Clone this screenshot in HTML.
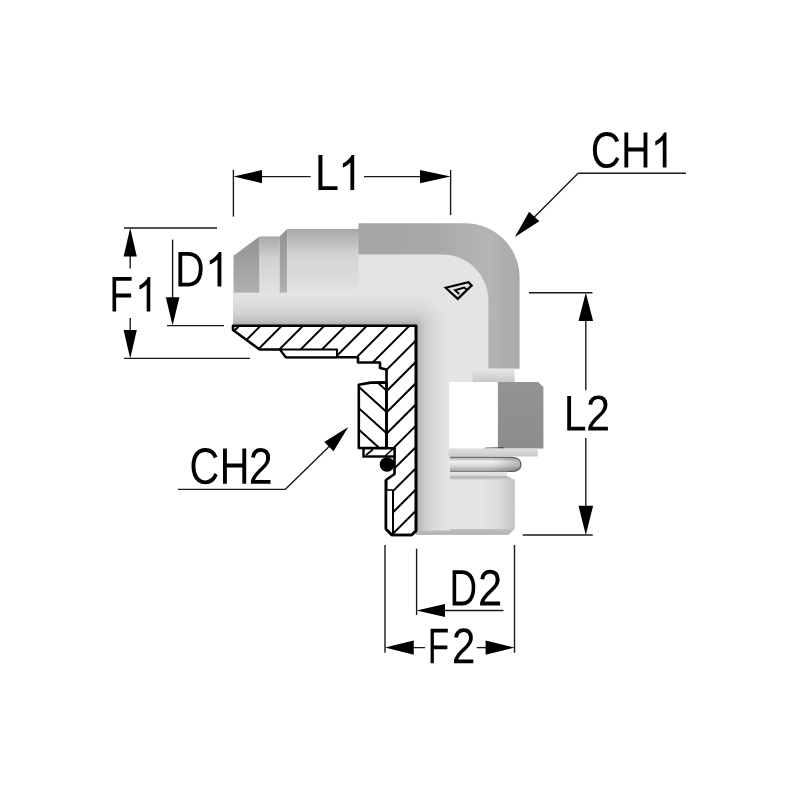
<!DOCTYPE html>
<html><head><meta charset="utf-8"><title>Fitting</title>
<style>html,body{margin:0;padding:0;background:#fff;width:800px;height:800px;overflow:hidden;font-family:"Liberation Sans",sans-serif}svg{display:block}</style>
</head><body>
<svg width="800" height="800" viewBox="0 0 800 800">
<defs>
<clipPath id="cElbow"><path d="M358.5,254.5 L442,254.5 A46,46 0 0 1 488.3,300 L488.3,535 L416,535 L416,325.5 L358.5,325.5 Z"/></clipPath>
<linearGradient id="gTube" gradientUnits="userSpaceOnUse" x1="0" y1="292.8" x2="0" y2="325.5"><stop offset="0" stop-color="#e6e6e6"/><stop offset="0.5" stop-color="#e2e2e2"/><stop offset="0.75" stop-color="#d8d8d8"/><stop offset="1" stop-color="#a8a8a8"/></linearGradient>
<radialGradient id="gArmR" gradientUnits="userSpaceOnUse" cx="416" cy="325.5" r="70.5"><stop offset="0" stop-color="#a8a8a8"/><stop offset="0.064" stop-color="#c0c0c0"/><stop offset="0.149" stop-color="#d0d0d0"/><stop offset="0.291" stop-color="#dcdcdc"/><stop offset="0.461" stop-color="#e4e4e4"/><stop offset="1" stop-color="#e4e4e4"/></radialGradient>
<linearGradient id="gArmH" gradientUnits="userSpaceOnUse" x1="0" y1="255" x2="0" y2="325.5"><stop offset="0" stop-color="#e4e4e4"/><stop offset="0.539" stop-color="#e4e4e4"/><stop offset="0.709" stop-color="#dcdcdc"/><stop offset="0.851" stop-color="#d0d0d0"/><stop offset="0.936" stop-color="#c0c0c0"/><stop offset="1" stop-color="#a8a8a8"/></linearGradient>
<linearGradient id="gArmV" gradientUnits="userSpaceOnUse" x1="486.5" y1="0" x2="416" y2="0"><stop offset="0" stop-color="#e4e4e4"/><stop offset="0.539" stop-color="#e4e4e4"/><stop offset="0.709" stop-color="#dcdcdc"/><stop offset="0.851" stop-color="#d0d0d0"/><stop offset="0.936" stop-color="#c0c0c0"/><stop offset="1" stop-color="#a8a8a8"/></linearGradient>
<linearGradient id="gDark" x1="0" y1="0" x2="0" y2="1"><stop offset="0" stop-color="#939393"/><stop offset="1" stop-color="#b0b0b0"/></linearGradient>
<linearGradient id="gLight" x1="0" y1="0" x2="0" y2="1"><stop offset="0" stop-color="#a8a8a8"/><stop offset="0.4" stop-color="#d2d2d2"/><stop offset="1" stop-color="#e2e2e2"/></linearGradient>
<linearGradient id="gTubeBot" x1="0" y1="0" x2="0" y2="1"><stop offset="0" stop-color="#e4e4e4"/><stop offset="0.55" stop-color="#dcdcdc"/><stop offset="1" stop-color="#a4a4a4"/></linearGradient>
<linearGradient id="gHex" gradientUnits="userSpaceOnUse" x1="358" y1="0" x2="520" y2="0"><stop offset="0" stop-color="#a5a5a5"/><stop offset="0.45" stop-color="#a8a8a8"/><stop offset="0.8" stop-color="#b5b5b5"/><stop offset="1" stop-color="#a9a9a9"/></linearGradient>
<linearGradient id="gElbow" x1="0" y1="0" x2="1" y2="0"><stop offset="0" stop-color="#e2e2e2"/><stop offset="1" stop-color="#dedede"/></linearGradient>
<linearGradient id="gVert" x1="0" y1="0" x2="1" y2="0"><stop offset="0" stop-color="#b4b4b4"/><stop offset="0.5" stop-color="#d8d8d8"/><stop offset="1" stop-color="#e2e2e2" stop-opacity="0"/></linearGradient>
<linearGradient id="gRing" x1="0" y1="0" x2="0" y2="1"><stop offset="0" stop-color="#e6e6e6"/><stop offset="1" stop-color="#c8c8c8"/></linearGradient>
<linearGradient id="gNut" x1="0" y1="0" x2="0" y2="1"><stop offset="0" stop-color="#939393"/><stop offset="1" stop-color="#8c8c8c"/></linearGradient>
<linearGradient id="gWasher" x1="0" y1="0" x2="0" y2="1"><stop offset="0" stop-color="#dedede"/><stop offset="1" stop-color="#cacaca"/></linearGradient>
<linearGradient id="gOringH" gradientUnits="userSpaceOnUse" x1="450" y1="0" x2="521" y2="0"><stop offset="0" stop-color="#000" stop-opacity="0"/><stop offset="0.6" stop-color="#000" stop-opacity="0"/><stop offset="1" stop-color="#000" stop-opacity="0.22"/></linearGradient>
<linearGradient id="gOring" x1="0" y1="0" x2="0" y2="1"><stop offset="0" stop-color="#a8a8a8"/><stop offset="0.3" stop-color="#f0f0f0"/><stop offset="0.6" stop-color="#dadada"/><stop offset="1" stop-color="#9a9a9a"/></linearGradient>
<linearGradient id="gGroove" gradientUnits="userSpaceOnUse" x1="0" y1="471.8" x2="0" y2="480"><stop offset="0" stop-color="#e6e6e6"/><stop offset="0.45" stop-color="#dcdcdc"/><stop offset="0.55" stop-color="#b8b8b8"/><stop offset="0.85" stop-color="#c0c0c0"/><stop offset="1" stop-color="#d8d8d8"/></linearGradient>
<linearGradient id="gCyl" gradientUnits="userSpaceOnUse" x1="449" y1="0" x2="515" y2="0"><stop offset="0" stop-color="#e4e4e4"/><stop offset="0.5" stop-color="#e4e4e4"/><stop offset="0.75" stop-color="#dcdcdc"/><stop offset="1" stop-color="#c4c4c4"/></linearGradient>
<linearGradient id="gBotBand" x1="0" y1="0" x2="0" y2="1"><stop offset="0" stop-color="#c0c0c0"/><stop offset="1" stop-color="#b0b0b0"/></linearGradient>
</defs>
<rect width="800" height="800" fill="#fff"/>
<rect x="233" y="292.8" width="126" height="33" fill="url(#gArmH)"/><polygon points="233.5,255.7 259.6,236.4 259.6,292.8 233.5,292.8" fill="url(#gDark)"/><rect x="259.6" y="236.4" width="20" height="56.4" fill="url(#gLight)"/><polygon points="279.6,236.4 287.1,228.9 287.1,292.8 279.6,292.8" fill="url(#gDark)"/><rect x="287.1" y="228.9" width="72" height="63.9" fill="url(#gLight)"/><path d="M358.5,254.5 L442,254.5 A46,46 0 0 1 488.3,300 L488.3,535 L416,535 L416,325.5 L358.5,325.5 Z" fill="url(#gArmH)"/><rect x="416" y="323.5" width="104" height="212" fill="url(#gArmV)" clip-path="url(#cElbow)"/><rect x="415" y="200" width="105" height="125.5" fill="url(#gArmR)" clip-path="url(#cElbow)"/><path d="M358.5,223.2 L465,223.2 A54.5,54.5 0 0 1 519.6,277.5 L519.6,368.7 L488.3,368.7 L488.3,300 A46,46 0 0 0 442,254.5 L358.5,254.5 Z" fill="url(#gHex)"/><rect x="472.5" y="368.7" width="42" height="13.3" fill="url(#gRing)"/><rect x="448.9" y="382" width="49" height="66.6" fill="#ffffff"/><path d="M497.9,382 L538,382 L543.4,387 L543.4,448.6 L497.9,448.6 Z" fill="url(#gNut)"/><path d="M483,448.6 L505,448.6 L503,447 L486,447.4 Z" fill="#333" opacity="0.7"/><rect x="448.5" y="448.6" width="89.3" height="7.9" fill="url(#gWasher)"/><path d="M450,457.3 L511,457.3 C517.5,457.3 521,460.3 521,464.4 C521,468.6 517.5,471.5 511,471.5 L450,471.5" fill="url(#gOring)" stroke="#4a4a4a" stroke-width="1.1" stroke-opacity="0.85"/><path d="M450,457.3 L511,457.3 C517.5,457.3 521,460.3 521,464.4 C521,468.6 517.5,471.5 511,471.5 L450,471.5 Z" fill="url(#gOringH)"/><path d="M450,471.8 L507,471.8 L507,476 L514.8,480 L450,480 Z" fill="url(#gGroove)"/><path d="M449,479.5 L514.8,479.5 L514.8,528.5 L508.5,534.7 L449,534.7 Z" fill="url(#gCyl)"/><path d="M416,530.5 L450,530.5 L450,529 L514.3,529 L508.5,534.7 L416,534.7 Z" fill="url(#gBotBand)"/>

<clipPath id="cBody"><path d="M233,325.7 L416,325.7 L416,531 L411.5,535 L392,535 L386,529 L386,480 L394.5,474 L394.5,448.6 L386.5,448.6 L386.5,369.5 L380,368 L380,362.5 L358,362.5 L358,357.2 L286,357.2 L280,349.5 L259.7,349.5 L233,330 Z"/></clipPath>
<clipPath id="cNut"><path d="M358.8,384.8 L370.6,382.6 L386.5,382.4 L386.5,448 L358.8,448 Z"/></clipPath>
<path d="M233,325.7 L416,325.7 L416,531 L411.5,535 L392,535 L386,529 L386,480 L394.5,474 L394.5,448.6 L386.5,448.6 L386.5,369.5 L380,368 L380,362.5 L358,362.5 L358,357.2 L286,357.2 L280,349.5 L259.7,349.5 L233,330 Z" fill="#fff"/>
<path d="M243.76,300 L-56.24,600 M265.03,300 L-34.97,600 M286.30,300 L-13.70,600 M307.57,300 L7.57,600 M328.84,300 L28.84,600 M350.11,300 L50.11,600 M371.38,300 L71.38,600 M392.65,300 L92.65,600 M413.92,300 L113.92,600 M435.19,300 L135.19,600 M456.46,300 L156.46,600 M477.73,300 L177.73,600 M499.00,300 L199.00,600 M520.27,300 L220.27,600 M541.54,300 L241.54,600 M562.81,300 L262.81,600 M584.08,300 L284.08,600 M605.35,300 L305.35,600 M626.62,300 L326.62,600 M647.89,300 L347.89,600 M669.16,300 L369.16,600 M690.43,300 L390.43,600 M711.70,300 L411.70,600 M732.97,300 L432.97,600 M754.24,300 L454.24,600 M775.51,300 L475.51,600 M796.78,300 L496.78,600 M818.05,300 L518.05,600 M839.32,300 L539.32,600 M860.59,300 L560.59,600 M881.86,300 L581.86,600 M903.13,300 L603.13,600 M924.40,300 L624.40,600 M945.67,300 L645.67,600 M966.94,300 L666.94,600 M988.21,300 L688.21,600 M1009.48,300 L709.48,600 M1030.75,300 L730.75,600 M1052.02,300 L752.02,600 M1073.29,300 L773.29,600 M1094.56,300 L794.56,600 M1115.83,300 L815.83,600" clip-path="url(#cBody)" stroke="#000" stroke-width="2" fill="none"/>
<path d="M358.8,384.8 L370.6,382.6 L386.5,382.4 L386.5,448 L358.8,448 Z" fill="#fff"/>
<path d="M340.00,306.12 L400.00,360.12 M340.00,327.42 L400.00,381.42 M340.00,348.72 L400.00,402.72 M340.00,370.02 L400.00,424.02 M340.00,391.32 L400.00,445.32 M340.00,412.62 L400.00,466.62 M340.00,433.92 L400.00,487.92 M340.00,455.22 L400.00,509.22 M340.00,476.52 L400.00,530.52" clip-path="url(#cNut)" stroke="#000" stroke-width="2" fill="none"/>
<path d="M233,325.7 L416,325.7 L416,531 L411.5,535 L392,535 L386,529 L386,480 L394.5,474 L394.5,448.6 L386.5,448.6 L386.5,369.5 L380,368 L380,362.5 L358,362.5 L358,357.2 L286,357.2 L280,349.5 L259.7,349.5 L233,330 Z" fill="none" stroke="#000" stroke-width="2.6" stroke-linejoin="round"/>
<path d="M358.8,384.8 L370.6,382.6 L386.5,382.4 L386.5,448 L358.8,448 Z" fill="none" stroke="#000" stroke-width="2.6" stroke-linejoin="round"/>
<path d="M280,349.5 L337,349.5 L337,357.2 L286,357.2 Z" fill="#fff" stroke="#000" stroke-width="2" stroke-linejoin="round"/>
<rect x="363.5" y="448.3" width="31" height="8.2" fill="#fff" stroke="#000" stroke-width="2.4"/>
<line x1="366" y1="455" x2="373" y2="449.5" stroke="#000" stroke-width="1.6"/>
<line x1="385" y1="456" x2="393" y2="449" stroke="#000" stroke-width="1.6"/>
<circle cx="387" cy="464.5" r="7.3" fill="#000"/>
<path d="M386,490 L393,490 L393,535 L392,535 L386,529 Z" fill="#fff"/>
<line x1="393" y1="490" x2="393" y2="535" stroke="#000" stroke-width="2"/>
<line x1="386" y1="490" x2="393" y2="490" stroke="#000" stroke-width="1.6"/>
<path d="M416,325.7 L416,531 L411.5,535 L392,535 L386,529 L386,480" fill="none" stroke="#000" stroke-width="2.6" stroke-linejoin="round"/>

<g fill="none" stroke="#000" stroke-width="2.2" stroke-linejoin="miter">
<path d="M445.6,287.7 L468.4,282.3 L471.7,285.4 L457.8,298.9 Z"/>
<path d="M467,289.8 L464.2,287.6 L455,290.3 L459.2,294" stroke-width="1.9"/>
</g>
<g stroke="#1a1a1a" stroke-width="1.4" fill="none"><line x1="233.4" y1="169.7" x2="233.4" y2="216.6"/><line x1="450.6" y1="170" x2="450.6" y2="215"/><line x1="240" y1="176.6" x2="310.7" y2="176.6"/><line x1="364" y1="176.6" x2="444" y2="176.6"/><line x1="124" y1="228" x2="217" y2="228"/><line x1="124" y1="358.4" x2="250" y2="358.4"/><line x1="130.2" y1="235" x2="130.2" y2="268.4"/><line x1="130.2" y1="318" x2="130.2" y2="352"/><line x1="172.6" y1="239.6" x2="172.6" y2="318"/><line x1="167" y1="325.6" x2="224" y2="325.6"/><line x1="578.1" y1="173.3" x2="686" y2="173.3"/><line x1="578.1" y1="173.3" x2="520" y2="231.5"/><line x1="529" y1="292.8" x2="592.5" y2="292.8"/><line x1="522.75" y1="535" x2="592.75" y2="535"/><line x1="585.8" y1="300" x2="585.8" y2="390.2"/><line x1="585.8" y1="438" x2="585.8" y2="528"/><line x1="178" y1="489.4" x2="285.1" y2="489.4"/><line x1="285.1" y1="489.4" x2="343" y2="433"/><line x1="416.6" y1="548.75" x2="416.6" y2="615"/><line x1="422" y1="610.5" x2="503.5" y2="610.5"/><line x1="385" y1="545" x2="385" y2="652.8"/><line x1="514.5" y1="545" x2="514.5" y2="652.8"/><line x1="390" y1="647.6" x2="425" y2="647.6"/><line x1="476.7" y1="647.6" x2="508" y2="647.6"/></g>
<g fill="#000"><polygon points="233.40,176.60 262.00,183.20 262.00,170.00"/><polygon points="450.60,176.60 420.00,170.00 420.00,183.20"/><polygon points="130.20,228.00 123.60,256.50 136.80,256.50"/><polygon points="130.20,358.40 136.80,330.00 123.60,330.00"/><polygon points="172.60,325.60 179.40,297.30 165.80,297.30"/><polygon points="514.90,237.00 539.34,221.30 529.16,211.70"/><polygon points="585.80,292.80 578.50,321.00 593.10,321.00"/><polygon points="585.80,535.00 593.10,505.80 578.50,505.80"/><polygon points="348.30,426.90 324.27,442.04 333.53,451.16"/><polygon points="416.60,610.50 445.00,617.00 445.00,604.00"/><polygon points="385.00,647.60 413.75,654.80 413.75,640.40"/><polygon points="514.50,647.60 485.60,640.40 485.60,654.80"/></g>
<g fill="#000"><path transform="matrix(0.02115 0 0 -0.02498 314.847 190.100)" d="M168 0V1409H359V156H1071V0Z"/><path transform="matrix(0.02111 0 0 -0.02498 338.092 190.100)" d="M763 0L583 0L583 1102C540 1063 483 1022 413 983C343 944 280 914 223 893L223 1061C323 1106 410 1161 485 1225C560 1290 613 1353 644 1409L763 1409Z"/><path transform="matrix(0.02035 0 0 -0.02484 590.783 167.600)" d="M792 1274Q558 1274 428.0 1123.5Q298 973 298 711Q298 452 433.5 294.5Q569 137 800 137Q1096 137 1245 430L1401 352Q1314 170 1156.5 75.0Q999 -20 791 -20Q578 -20 422.5 68.5Q267 157 185.5 321.5Q104 486 104 711Q104 1048 286.0 1239.0Q468 1430 790 1430Q1015 1430 1166.0 1342.0Q1317 1254 1388 1081L1207 1021Q1158 1144 1049.5 1209.0Q941 1274 792 1274Z"/><path transform="matrix(0.02010 0 0 -0.02484 621.022 167.600)" d="M1121 0V653H359V0H168V1409H359V813H1121V1409H1312V0Z"/><path transform="matrix(0.02074 0 0 -0.02484 650.675 167.600)" d="M763 0L583 0L583 1102C540 1063 483 1022 413 983C343 944 280 914 223 893L223 1061C323 1106 410 1161 485 1225C560 1290 613 1353 644 1409L763 1409Z"/><path transform="matrix(0.02003 0 0 -0.02441 175.034 286.400)" d="M1381 719Q1381 501 1296.0 337.5Q1211 174 1055.0 87.0Q899 0 695 0H168V1409H634Q992 1409 1186.5 1229.5Q1381 1050 1381 719ZM1189 719Q1189 981 1045.5 1118.5Q902 1256 630 1256H359V153H673Q828 153 945.5 221.0Q1063 289 1126.0 417.0Q1189 545 1189 719Z"/><path transform="matrix(0.02167 0 0 -0.02441 204.868 286.400)" d="M763 0L583 0L583 1102C540 1063 483 1022 413 983C343 944 280 914 223 893L223 1061C323 1106 410 1161 485 1225C560 1290 613 1353 644 1409L763 1409Z"/><path transform="matrix(0.01908 0 0 -0.02441 109.294 311.400)" d="M359 1253V729H1145V571H359V0H168V1409H1169V1253Z"/><path transform="matrix(0.02019 0 0 -0.02441 134.899 311.400)" d="M763 0L583 0L583 1102C540 1063 483 1022 413 983C343 944 280 914 223 893L223 1061C323 1106 410 1161 485 1225C560 1290 613 1353 644 1409L763 1409Z"/><path transform="matrix(0.01988 0 0 -0.02456 563.910 430.500)" d="M168 0V1409H359V156H1071V0Z"/><path transform="matrix(0.02106 0 0 -0.02456 586.081 430.500)" d="M103 0V127Q154 244 227.5 333.5Q301 423 382.0 495.5Q463 568 542.5 630.0Q622 692 686.0 754.0Q750 816 789.5 884.0Q829 952 829 1038Q829 1154 761.0 1218.0Q693 1282 572 1282Q457 1282 382.5 1219.5Q308 1157 295 1044L111 1061Q131 1230 254.5 1330.0Q378 1430 572 1430Q785 1430 899.5 1329.5Q1014 1229 1014 1044Q1014 962 976.5 881.0Q939 800 865.0 719.0Q791 638 582 468Q467 374 399.0 298.5Q331 223 301 153H1036V0Z"/><path transform="matrix(0.02020 0 0 -0.02498 189.399 483.800)" d="M792 1274Q558 1274 428.0 1123.5Q298 973 298 711Q298 452 433.5 294.5Q569 137 800 137Q1096 137 1245 430L1401 352Q1314 170 1156.5 75.0Q999 -20 791 -20Q578 -20 422.5 68.5Q267 157 185.5 321.5Q104 486 104 711Q104 1048 286.0 1239.0Q468 1430 790 1430Q1015 1430 1166.0 1342.0Q1317 1254 1388 1081L1207 1021Q1158 1144 1049.5 1209.0Q941 1274 792 1274Z"/><path transform="matrix(0.02028 0 0 -0.02498 219.593 483.800)" d="M1121 0V653H359V0H168V1409H359V813H1121V1409H1312V0Z"/><path transform="matrix(0.02101 0 0 -0.02498 248.736 483.800)" d="M103 0V127Q154 244 227.5 333.5Q301 423 382.0 495.5Q463 568 542.5 630.0Q622 692 686.0 754.0Q750 816 789.5 884.0Q829 952 829 1038Q829 1154 761.0 1218.0Q693 1282 572 1282Q457 1282 382.5 1219.5Q308 1157 295 1044L111 1061Q131 1230 254.5 1330.0Q378 1430 572 1430Q785 1430 899.5 1329.5Q1014 1229 1014 1044Q1014 962 976.5 881.0Q939 800 865.0 719.0Q791 638 582 468Q467 374 399.0 298.5Q331 223 301 153H1036V0Z"/><path transform="matrix(0.01871 0 0 -0.02491 449.456 605.400)" d="M1381 719Q1381 501 1296.0 337.5Q1211 174 1055.0 87.0Q899 0 695 0H168V1409H634Q992 1409 1186.5 1229.5Q1381 1050 1381 719ZM1189 719Q1189 981 1045.5 1118.5Q902 1256 630 1256H359V153H673Q828 153 945.5 221.0Q1063 289 1126.0 417.0Q1189 545 1189 719Z"/><path transform="matrix(0.02144 0 0 -0.02491 477.892 605.400)" d="M103 0V127Q154 244 227.5 333.5Q301 423 382.0 495.5Q463 568 542.5 630.0Q622 692 686.0 754.0Q750 816 789.5 884.0Q829 952 829 1038Q829 1154 761.0 1218.0Q693 1282 572 1282Q457 1282 382.5 1219.5Q308 1157 295 1044L111 1061Q131 1230 254.5 1330.0Q378 1430 572 1430Q785 1430 899.5 1329.5Q1014 1229 1014 1044Q1014 962 976.5 881.0Q939 800 865.0 719.0Q791 638 582 468Q467 374 399.0 298.5Q331 223 301 153H1036V0Z"/><path transform="matrix(0.01718 0 0 -0.02441 427.713 663.200)" d="M359 1253V729H1145V571H359V0H168V1409H1169V1253Z"/><path transform="matrix(0.02069 0 0 -0.02441 451.869 663.200)" d="M103 0V127Q154 244 227.5 333.5Q301 423 382.0 495.5Q463 568 542.5 630.0Q622 692 686.0 754.0Q750 816 789.5 884.0Q829 952 829 1038Q829 1154 761.0 1218.0Q693 1282 572 1282Q457 1282 382.5 1219.5Q308 1157 295 1044L111 1061Q131 1230 254.5 1330.0Q378 1430 572 1430Q785 1430 899.5 1329.5Q1014 1229 1014 1044Q1014 962 976.5 881.0Q939 800 865.0 719.0Q791 638 582 468Q467 374 399.0 298.5Q331 223 301 153H1036V0Z"/></g>
</svg>
</body></html>
